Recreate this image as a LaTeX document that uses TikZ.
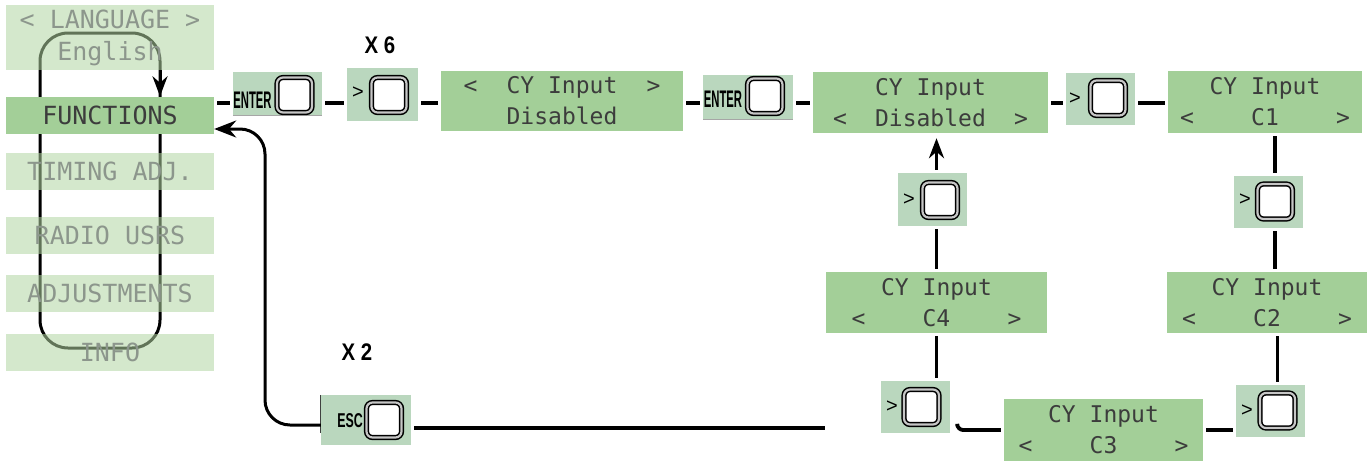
\documentclass[tikz,border=0pt]{standalone}
\usepackage{fontspec}
\usetikzlibrary{arrows.meta,calc}
\newfontfamily\lcdfont{DejaVu Sans Mono}
\newfontfamily\enterfont[FakeStretch=0.47]{Liberation Sans}
\newfontfamily\escfont[FakeStretch=0.62]{Liberation Sans}
\newfontfamily\labfont[FakeStretch=0.85]{Liberation Sans}
\newfontfamily\gtfont{Liberation Sans}
\definecolor{lcd}{RGB}{163,207,152}
\definecolor{keybg}{RGB}{186,215,190}
\definecolor{menulight}{RGB}{177,213,162}
\definecolor{lcdtext}{RGB}{60,60,60}
\definecolor{menutext}{RGB}{140,150,140}
\newcommand\lcdsel[2]{\makebox[#1]{<\hfill #2\hfill >}}
\begin{document}
\begin{tikzpicture}[x=1pt,y=-1pt,
  menu/.style={minimum width=208, minimum height=37, inner sep=0, align=center,
    font=\lcdfont\fontsize{25}{32}\selectfont},
  menuoff/.style={menu, fill=menulight, fill opacity=0.55, text opacity=1, text=menutext},
  lcdbox/.style={fill=lcd, inner sep=0, text=lcdtext, align=center,
    font=\lcdfont\fontsize{23}{31}\selectfont},
  keybox/.style={fill=keybg, inner sep=0},
  keybtn/.style={draw=black, line width=1.5pt, double=gray!45, double distance=2.2pt,
    fill=white, rounded corners=6pt, minimum size=35, inner sep=0},
  gtlabel/.style={font=\gtfont\fontsize{20}{20}\selectfont, inner sep=0},
  link/.style={line width=3.8pt, shorten <=3pt, shorten >=3pt},
  tip/.style={-{Stealth[length=20pt,width=15pt]}},
  xlab/.style={font=\labfont\bfseries\fontsize{24}{24}\selectfont, inner sep=0}
]
\useasboundingbox (0,0) rectangle (1367,461);

% ---- menu loop (behind the light menu boxes)
\draw[line width=3pt, rounded corners=28] (40,33) rectangle (160,348);
\coordinate (loopR) at (160,0);

% ---- left menu
\node[menuoff, minimum height=65] (lang) at (110,37.5) {< LANGUAGE >\\English};
\node[menu, fill=lcd, text=lcdtext] (fn) at (110,115) {FUNCTIONS};
\node[menuoff] (timing) at (110,171) {TIMING ADJ.};
\node[menuoff] (radio) at (110,235.5) {RADIO USRS};
\node[menuoff] (adj) at (110,293.5) {ADJUSTMENTS};
\node[menuoff] (info) at (110,352.5) {INFO};
\draw[line width=3pt, tip] (loopR |- lang.south) -- (loopR |- fn.north);

% ---- key boxes
\node[keybox, minimum width=89, minimum height=43] (enter1) at (277.5,93.5) {};
\draw[gray!70, line width=1.2pt] (enter1.south west) -- (enter1.south east);
\node[keybtn] (k1) at (294.5,95) {};
\node[font=\enterfont\bfseries\fontsize{24}{24}\selectfont, inner sep=0] (t1) at (252.5,100) {ENTER};

\node[keybox, minimum width=71, minimum height=53] (gt1) at (382.5,94.5) {};
\node[keybtn] (k2) at (389,95) {};
\node[gtlabel] (g1) at (358,93) {>};

\node[keybox, minimum width=90, minimum height=44] (enter2) at (748,97) {};
\draw[gray!70, line width=1.2pt] (enter2.south west) -- (enter2.south east);
\node[keybtn] (k3) at (765,96) {};
\node[font=\enterfont\bfseries\fontsize{24}{24}\selectfont, inner sep=0] (t2) at (723,99) {ENTER};

\node[keybox, minimum width=69, minimum height=52] (gt2) at (1100.5,99) {};
\node[keybtn] (k4) at (1108,98) {};
\node[gtlabel] (g2) at (1075,99) {>};

\node[keybox, minimum width=69, minimum height=52] (gtR) at (1268.5,202) {};
\node[keybtn] (keyR) at (1275,201.5) {};
\node[gtlabel] (g3) at (1245,200) {>};

\node[keybox, minimum width=69, minimum height=52] (gtR2) at (1270.5,411) {};
\node[keybtn] (keyR2) at (1277.5,410.5) {};
\node[gtlabel] (g4) at (1247,411) {>};

\node[keybox, minimum width=69, minimum height=52] (gt4) at (915.5,407) {};
\node[keybtn] (k7) at (921.5,407) {};
\node[gtlabel] (g5) at (892,407) {>};

\node[keybox, minimum width=69, minimum height=53] (gtM) at (932.5,199.5) {};
\node[keybtn] (k8) at (940,200) {};
\node[gtlabel] (g6) at (909,200) {>};

\node[keybox, minimum width=90, minimum height=50] (esc) at (366,420) {};
\node[keybtn] (k9) at (384,420) {};
\node[font=\escfont\bfseries\fontsize{20}{20}\selectfont, inner sep=0] (t3) at (350,421) {ESC};
\draw[line width=0.8pt, black!75] (esc.north west) -- ([yshift=-13pt]esc.west);

% ---- LCD displays
\node[lcdbox, minimum width=242, minimum height=60] (cy1) at (562,101)
  {\lcdsel{197pt}{CY Input}\\Disabled};
\node[lcdbox, minimum width=235, minimum height=61] (cy2) at (930.5,102.5)
  {CY Input\\\lcdsel{195pt}{Disabled}};
\node[lcdbox, minimum width=194, minimum height=62] (c1) at (1265,102)
  {CY Input\\\lcdsel{170pt}{C1}};
\node[lcdbox, minimum width=200, minimum height=61] (c2) at (1267,302.5)
  {CY Input\\\lcdsel{170pt}{C2}};
\node[lcdbox, minimum width=199, minimum height=62] (c3) at (1103.5,430)
  {CY Input\\\lcdsel{170pt}{C3}};
\node[lcdbox, minimum width=221, minimum height=61] (c4) at (936.5,302.5)
  {CY Input\\\lcdsel{170pt}{C4}};

% ---- labels
\node[xlab] (x6) at (380,45) {X 6};
\node[xlab] (x2) at (357,352) {X 2};

% ---- connectors
\coordinate (row) at (0,103);
\draw[link] (fn.east |- row) -- (enter1.west |- row);
\draw[link] (enter1.east |- row) -- (gt1.west |- row);
\draw[link] (gt1.east |- row) -- (cy1.west |- row);
\draw[link] (cy1.east |- row) -- (enter2.west |- row);
\draw[link] (enter2.east |- row) -- (cy2.west |- row);
\draw[link] (cy2.east |- row) -- (gt2.west |- row);
\draw[link] (gt2.east |- row) -- (c1.west |- row);

\draw[link] (keyR |- c1.south) -- (keyR |- gtR.north);
\draw[link] (keyR |- gtR.south) -- (keyR |- c2.north);
\draw[link] (keyR2 |- c2.south) -- (keyR2 |- gtR2.north);
\draw[link] (gtR2.west |- c3.east) -- (c3.east);
\draw[link, shorten <=0pt, rounded corners=6] ($(gt4.east)+(7,19)$) |- (c3.west);
\draw[link] (c4.south) -- (c4.south |- gt4.north);
\draw[link] (c4.north) -- (c4.north |- gtM.south);
\draw[link, shorten >=5pt, tip] (c4.north |- gtM.north) -- (c4.north |- cy2.south);

\coordinate (escend) at (825,428);
\draw[link, shorten >=0pt] ([yshift=-8pt]esc.east) -- (escend);
\draw[line width=3pt, rounded corners=25, -{Stealth[length=22pt,width=17pt]}]
  ([yshift=-5pt]esc.west) -- (265,425) -- (265,129) -- (fn.east |- 0,129);
\end{tikzpicture}
\end{document}
